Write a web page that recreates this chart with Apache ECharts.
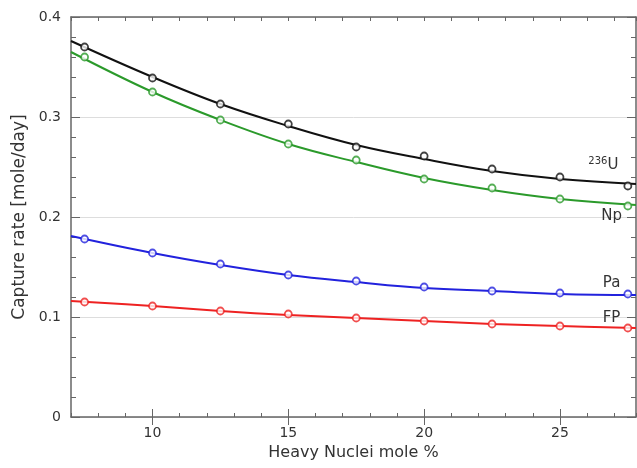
<!DOCTYPE html>
<html><head><meta charset="utf-8">
<script src="https://cdn.jsdelivr.net/npm/echarts@6/dist/echarts.min.js"></script>
<style>html,body{margin:0;padding:0;background:#fff}#c{width:637px;height:468px}</style>
</head><body><div id="c"></div>
<script>
// measured points
const xPoints = [7.5, 10, 12.5, 15, 17.5, 20, 22.5, 25, 27.5];
const u236 = [0.370, 0.339, 0.313, 0.293, 0.270, 0.261, 0.248, 0.240, 0.231];
const np   = [0.360, 0.325, 0.297, 0.273, 0.257, 0.238, 0.229, 0.218, 0.211];
const pa   = [0.178, 0.164, 0.153, 0.142, 0.136, 0.130, 0.126, 0.124, 0.123];
const fp   = [0.115, 0.111, 0.106, 0.103, 0.099, 0.096, 0.093, 0.091, 0.089];
// fitted curves
const xCurve = [7, 10, 12.5, 15, 17.5, 20, 22.5, 25, 27.8];
const u236Fit = [0.376, 0.340, 0.313, 0.291, 0.272, 0.258, 0.246, 0.238, 0.233];
const npFit   = [0.365, 0.325, 0.297, 0.273, 0.255, 0.239, 0.227, 0.218, 0.212];
const paFit   = [0.181, 0.164, 0.152, 0.142, 0.135, 0.129, 0.126, 0.123, 0.122];
const fpFit   = [0.116, 0.111, 0.106, 0.102, 0.099, 0.096, 0.093, 0.091, 0.089];
const xTickLabels = [10, 15, 20, 25];

const FONT = 'DejaVu Sans';
const pairs = (xs, ys) => xs.map((x, i) => [x, ys[i]]);

const seriesDefs = [
  {name: '236U', pts: u236, fit: u236Fit, color: '#111111', label: '{sup|236}{b|U}', at: [26.6, 0.252]},
  {name: 'Np', pts: np, fit: npFit, color: '#2b9a2b', label: '{b|Np}', at: [26.9, 0.201]},
  {name: 'Pa', pts: pa, fit: paFit, color: '#2222dd', label: '{b|Pa}', at: [26.9, 0.134]},
  {name: 'FP', pts: fp, fit: fpFit, color: '#ee2222', label: '{b|FP}', at: [26.9, 0.099]}
];

const series = [];
seriesDefs.forEach(s => {
  series.push({
    type: 'line', name: s.name + ' fit', data: pairs(xCurve, s.fit), smooth: 0.4,
    showSymbol: false, lineStyle: {color: s.color, width: 2}, z: 2, silent: true,
    markPoint: {
      symbol: 'circle', symbolSize: 0,
      data: [{coord: s.at}],
      label: {
        show: true, position: 'inside', formatter: s.label,
        rich: {
          b: {fontFamily: FONT, fontSize: 15, color: '#333'},
          sup: {fontFamily: FONT, fontSize: 10, color: '#333', verticalAlign: 'top', padding: [0, 0, 8, 0]}
        }
      }
    }
  });
  series.push({
    type: 'scatter', name: s.name, data: pairs(xPoints, s.pts), symbol: 'circle', symbolSize: 7,
    itemStyle: {color: '#fff', borderColor: s.color, borderWidth: 1.8}, z: 3
  });
});

const tickStyle = {color: '#666', width: 1};
const chart = echarts.init(document.getElementById('c'));
chart.setOption({
  animation: false,
  grid: {left: 71, right: 1, top: 17, bottom: 51},
  xAxis: [{
    type: 'value', min: 7, max: 27.8, interval: 1, position: 'bottom',
    name: 'Heavy Nuclei mole %', nameLocation: 'middle', nameGap: 28,
    nameTextStyle: {fontFamily: FONT, fontSize: 16, color: '#333'},
    axisLine: {show: true, onZero: false, lineStyle: {color: '#666', width: 1.5}},
    axisTick: {show: true, inside: true, length: 4, lineStyle: tickStyle},
    axisLabel: {show: true, customValues: xTickLabels, margin: 9, fontFamily: FONT, fontSize: 14, color: '#333'},
    splitLine: {show: false}
  }, {
    type: 'value', min: 7, max: 27.8, position: 'bottom',
    axisLine: {show: false},
    axisTick: {show: true, inside: true, length: 8, customValues: xTickLabels, lineStyle: tickStyle},
    axisLabel: {show: false}, splitLine: {show: false}
  }, {
    type: 'value', min: 7, max: 27.8, interval: 1, position: 'top',
    axisLine: {show: true, onZero: false, lineStyle: {color: '#666', width: 1.5}},
    axisTick: {show: true, inside: true, length: 4, lineStyle: tickStyle},
    axisLabel: {show: false}, splitLine: {show: false}
  }, {
    type: 'value', min: 7, max: 27.8, position: 'top',
    axisLine: {show: false},
    axisTick: {show: true, inside: true, length: 8, customValues: xTickLabels, lineStyle: tickStyle},
    axisLabel: {show: false}, splitLine: {show: false}
  }],
  yAxis: [{
    type: 'value', min: 0, max: 0.4, interval: 0.1, position: 'left',
    name: 'Capture rate [mole/day]', nameLocation: 'middle', nameGap: 37,
    nameTextStyle: {fontFamily: FONT, fontSize: 17, color: '#333'},
    axisLine: {show: true, onZero: false, lineStyle: {color: '#666', width: 1.5}},
    axisTick: {show: true, inside: true, length: 9, lineStyle: tickStyle},
    minorTick: {show: true, splitNumber: 5, length: 5, lineStyle: tickStyle},
    axisLabel: {margin: 10, fontFamily: FONT, fontSize: 14, color: '#333',
      formatter: v => (v === 0 ? '0' : v.toFixed(1))},
    splitLine: {show: true, lineStyle: {color: '#dddddd', width: 1}}
  }, {
    type: 'value', min: 0, max: 0.4, interval: 0.1, position: 'right',
    axisLine: {show: true, onZero: false, lineStyle: {color: '#666', width: 1.5}},
    axisTick: {show: true, inside: true, length: 9, lineStyle: tickStyle},
    minorTick: {show: true, splitNumber: 5, length: 5, lineStyle: tickStyle},
    axisLabel: {show: false}, splitLine: {show: false}
  }],
  series: series
});
</script></body></html>
